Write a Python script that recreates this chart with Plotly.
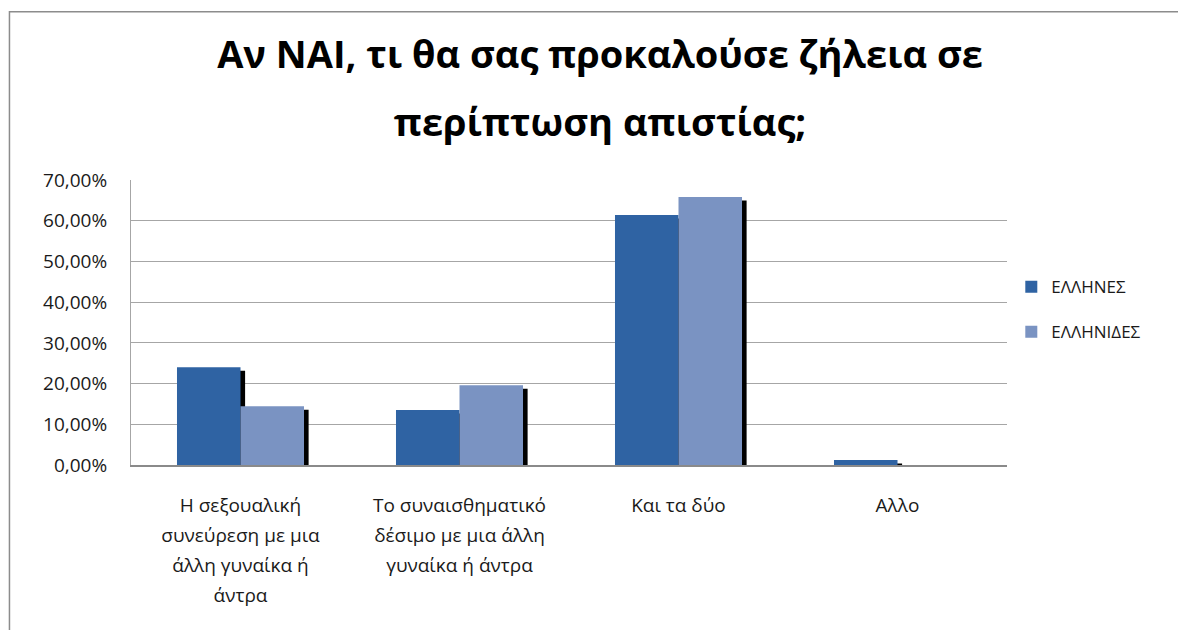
import plotly.graph_objects as go

categories = [
    "Η σεξουαλική<br>συνεύρεση με μια<br>άλλη γυναίκα ή<br>άντρα",
    "Το συναισθηματικό<br>δέσιμο με μια άλλη<br>γυναίκα ή άντρα",
    "Και τα δύο",
    "Αλλο",
]
series_names = ["ΕΛΛΗΝΕΣ", "ΕΛΛΗΝΙΔΕΣ"]
ellines = [0.240, 0.135, 0.614, 0.012]
ellinides = [0.144, 0.196, 0.658, 0.0]
y_ticks = [0, 0.1, 0.2, 0.3, 0.4, 0.5, 0.6, 0.7]

colors = ["#2F63A3", "#7A93C2"]
FONT = "Open Sans"

W, H = 1178, 622  # page body has an 8px margin

x_pos = list(range(len(categories)))
bar_w = 0.29
shadow_dx = 0.021
shadow_dy = 0.0085


def spaced(label, size):
    return "<br>".join(
        f'<span style="font-size:{size}px">{part}</span>' for part in label.split("<br>")
    )


fig = go.Figure()
for i, (name, vals) in enumerate(zip(series_names, [ellines, ellinides])):
    off = -bar_w if i == 0 else 0.0
    fig.add_trace(go.Bar(
        x=x_pos, y=vals, base=[-shadow_dy] * len(vals),
        width=bar_w, offset=off + shadow_dx,
        marker=dict(color="#000000", line=dict(width=0)),
        showlegend=False, hoverinfo="skip",
    ))
    fig.add_trace(go.Bar(
        x=x_pos, y=vals, name=name,
        width=bar_w, offset=off,
        marker=dict(color=colors[i], line=dict(width=0)),
        legendgroup=name,
    ))

title_text = "Αν ΝΑΙ, τι θα σας προκαλούσε ζήλεια σε<br>περίπτωση απιστίας;"

fig.update_layout(
    width=W, height=H,
    barmode="overlay",
    separators=",.",
    paper_bgcolor="white", plot_bgcolor="white",
    margin=dict(l=123, r=179, t=172, b=165),
    font=dict(family=FONT, color="#1a1a1a"),
    title=dict(
        text=spaced(title_text, 38),
        font=dict(family=FONT, size=52, color="#000000", weight="bold"),
        x=592 / W, xref="container", xanchor="center",
        y=1 - 60 / H, yref="container", yanchor="middle",
    ),
    xaxis=dict(
        tickmode="array", tickvals=x_pos,
        ticktext=[spaced(c, 19) for c in categories],
        range=[-0.5, 3.5], showgrid=False, zeroline=False,
        showline=True, linecolor="#8a8a8a", linewidth=1.5,
        ticks="", tickfont=dict(size=23, family=FONT, color="#1a1a1a"),
        ticklabelstandoff=18,
        fixedrange=True,
    ),
    yaxis=dict(
        range=[0, 0.7], tickvals=y_ticks, tickformat=".2%",
        showgrid=True, gridcolor="#a6a6a6", gridwidth=1.2,
        zeroline=False, showline=True, linecolor="#a6a6a6", linewidth=1,
        ticks="", ticklen=0, tickfont=dict(size=19, family=FONT, color="#1a1a1a"),
        ticklabelstandoff=19,
        fixedrange=True,
    ),
    legend=dict(
        x=(1011 - 131) / 875.7, xanchor="left", y=0.552 - 2 / 285, yanchor="middle",
        font=dict(size=17, family=FONT, color="#1a1a1a"),
        tracegroupgap=20, traceorder="grouped",
        bgcolor="rgba(0,0,0,0)",
    ),
    shapes=[dict(
        type="rect", xref="paper", yref="paper",
        x0=(9.5 - 131) / 875.7, x1=1.3,
        y0=-0.7, y1=(465.3 - 12) / 285,
        line=dict(color="#8c8c8c", width=1.5), fillcolor="rgba(0,0,0,0)",
        layer="below",
    )],
)

fig.write_html("out.html")
